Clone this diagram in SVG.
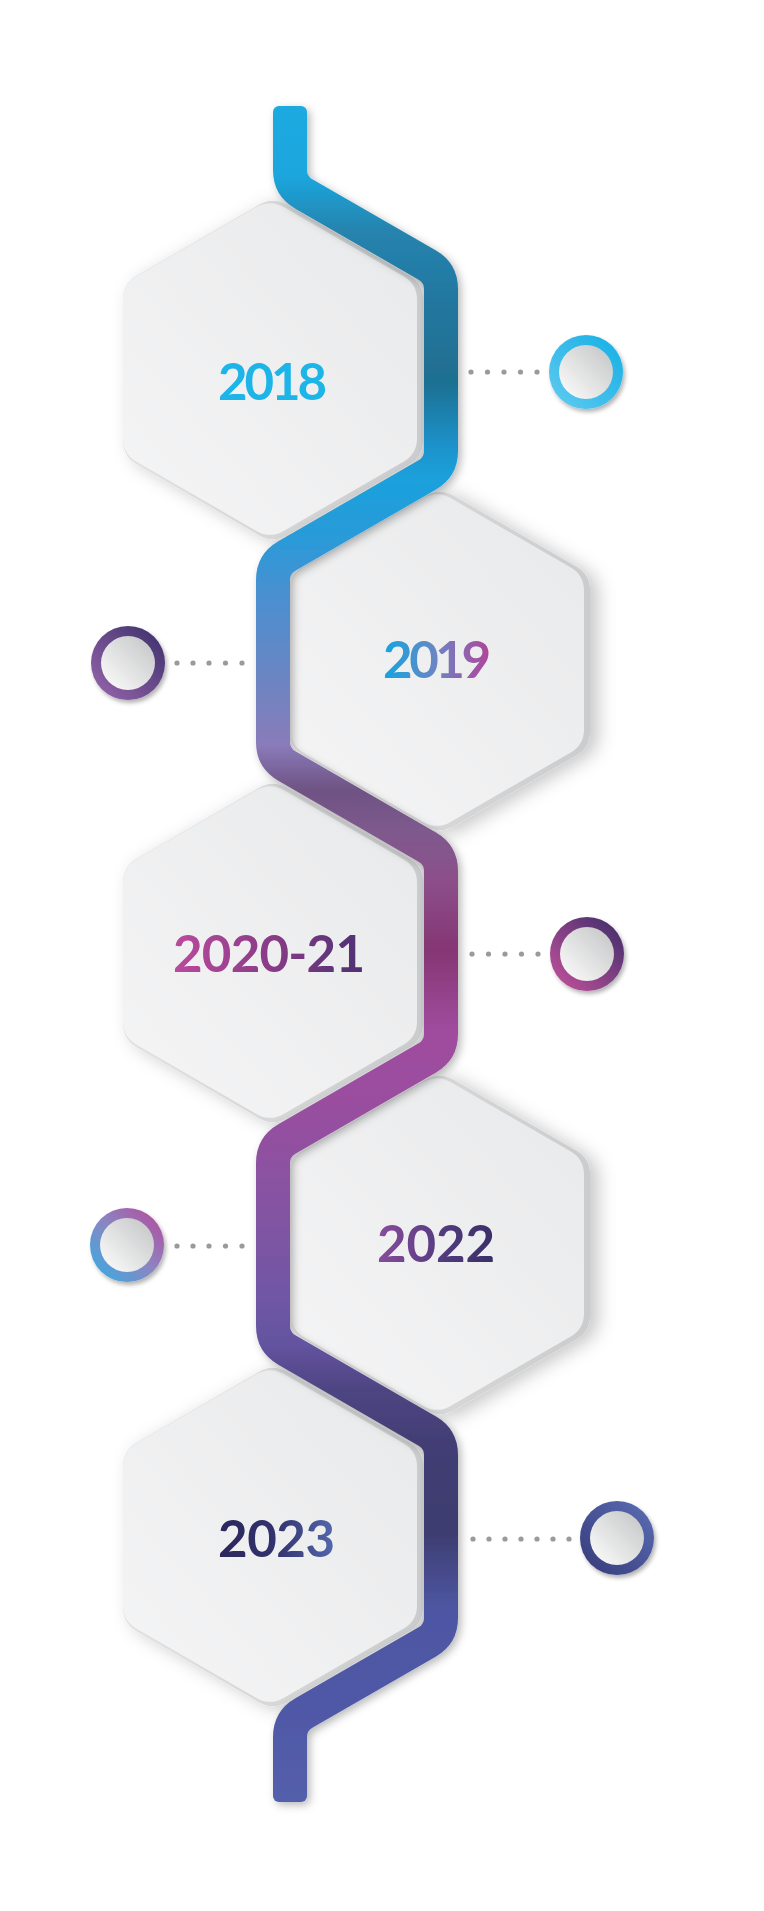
<svg xmlns="http://www.w3.org/2000/svg" xmlns:xlink="http://www.w3.org/1999/xlink" width="764" height="1911" viewBox="0 0 764 1911">
<style>
.yr{font-family:Lato,"Liberation Sans",sans-serif;font-weight:700;font-size:51px}
.dot{fill:#9A9A9B}
.face{fill:url(#faceG)}
.base{fill:url(#baseG);filter:url(#hs)}
.disk{fill:url(#diskG)}
</style>
<defs>
<path id="hex" d="M13.86,-165.2 L136.14,-94.6 Q150,-86.6 150,-70.6 L150,70.6 Q150,86.6 136.14,94.6 L13.86,165.2 Q0,173.2 -13.86,165.2 L-136.14,94.6 Q-150,86.6 -150,70.6 L-150,-70.6 Q-150,-86.6 -136.14,-94.6 L-13.86,-165.2 Q0,-173.2 13.86,-165.2 Z"/>
<filter id="hs" x="-30%" y="-30%" width="160%" height="160%"><feDropShadow dx="8" dy="3" stdDeviation="9" flood-color="#000" flood-opacity="0.22"/></filter>
<filter id="ls" x="-20%" y="-5%" width="140%" height="110%"><feDropShadow dx="3" dy="3" stdDeviation="4" flood-color="#000" flood-opacity="0.28"/></filter>
<filter id="cs" x="-30%" y="-30%" width="160%" height="160%"><feDropShadow dx="2" dy="3" stdDeviation="2" flood-color="#000" flood-opacity="0.3"/></filter>
<linearGradient id="faceG" x1="1" y1="0" x2="0" y2="1"><stop offset="0" stop-color="#E8E9EA"/><stop offset="1" stop-color="#F5F5F6"/></linearGradient>
<linearGradient id="baseG" x1="1" y1="0" x2="0" y2="0"><stop offset="0" stop-color="#CBCCCD"/><stop offset="1" stop-color="#E2E2E3"/></linearGradient>
<linearGradient id="diskG" x1="0.9" y1="0.1" x2="0.1" y2="0.9"><stop offset="0" stop-color="#C8C9CA"/><stop offset="1" stop-color="#F8F8F8"/></linearGradient>
<linearGradient id="lineG" gradientUnits="userSpaceOnUse" x1="0" y1="100" x2="0" y2="1810">
<stop offset="0" stop-color="#1BAAE1"/><stop offset="0.044" stop-color="#1BA6DE"/><stop offset="0.076" stop-color="#2584AE"/><stop offset="0.117" stop-color="#2377A0"/><stop offset="0.164" stop-color="#1F6F90"/><stop offset="0.199" stop-color="#1C8FC6"/><stop offset="0.222" stop-color="#1AA1DD"/><stop offset="0.257" stop-color="#2A9AD8"/><stop offset="0.292" stop-color="#4C8FD0"/><stop offset="0.339" stop-color="#6C85C2"/><stop offset="0.377" stop-color="#8A7BBA"/><stop offset="0.404" stop-color="#6E5283"/><stop offset="0.427" stop-color="#7E5A8D"/><stop offset="0.456" stop-color="#8C4F8B"/><stop offset="0.497" stop-color="#853673"/><stop offset="0.544" stop-color="#A04C9E"/><stop offset="0.585" stop-color="#9A4E9F"/><stop offset="0.632" stop-color="#8A52A1"/><stop offset="0.702" stop-color="#6F57A5"/><stop offset="0.728" stop-color="#6353A0"/><stop offset="0.754" stop-color="#4E4582"/><stop offset="0.784" stop-color="#423E75"/><stop offset="0.836" stop-color="#3D3C6F"/><stop offset="0.883" stop-color="#4E57A3"/><stop offset="0.936" stop-color="#5058A6"/><stop offset="1" stop-color="#535FAB"/>
</linearGradient>
<linearGradient id="r1" x1="0" y1="1" x2="1" y2="0"><stop offset="0" stop-color="#63CCF0"/><stop offset="0.45" stop-color="#3DBDEB"/><stop offset="1" stop-color="#15AFE4"/></linearGradient>
<linearGradient id="r2" x1="0" y1="1" x2="1" y2="0"><stop offset="0" stop-color="#9A66AE"/><stop offset="1" stop-color="#3A2F69"/></linearGradient>
<linearGradient id="r3" x1="0" y1="1" x2="1" y2="0"><stop offset="0" stop-color="#C8529E"/><stop offset="1" stop-color="#3A2D68"/></linearGradient>
<linearGradient id="r4" x1="0" y1="1" x2="1" y2="0"><stop offset="0" stop-color="#2FB0E6"/><stop offset="0.5" stop-color="#8A86C2"/><stop offset="1" stop-color="#B8459A"/></linearGradient>
<linearGradient id="r5" x1="0" y1="1" x2="1" y2="0"><stop offset="0" stop-color="#363978"/><stop offset="1" stop-color="#5B6FB6"/></linearGradient>
<linearGradient id="t2019" x1="0" y1="0" x2="1" y2="0"><stop offset="0" stop-color="#12A6E0"/><stop offset="0.5" stop-color="#6D84C3"/><stop offset="1" stop-color="#B2439A"/></linearGradient>
<linearGradient id="t2020" x1="0" y1="0" x2="1" y2="0"><stop offset="0" stop-color="#BB4A9F"/><stop offset="0.5" stop-color="#8A3C86"/><stop offset="1" stop-color="#4D3173"/></linearGradient>
<linearGradient id="t2022" x1="0" y1="0" x2="1" y2="0"><stop offset="0" stop-color="#8A4C9E"/><stop offset="0.6" stop-color="#4E3A7C"/><stop offset="1" stop-color="#3A2F66"/></linearGradient>
<linearGradient id="t2023" x1="0" y1="0" x2="1" y2="0"><stop offset="0" stop-color="#2C275B"/><stop offset="0.5" stop-color="#33336E"/><stop offset="1" stop-color="#5468AD"/></linearGradient>
</defs>
<rect width="764" height="1911" fill="#FFFFFF"/>

<g id="hex-2018">
<use href="#hex" class="base" transform="translate(273,370)"/>
<use href="#hex" class="face" transform="translate(270,369) scale(0.98)"/>
<text class="yr" x="218" y="400" textLength="109" lengthAdjust="spacing" fill="#1DB4E8">2018</text>
</g>
<g id="hex-2019">
<use href="#hex" class="base" transform="translate(440,661)"/>
<use href="#hex" class="face" transform="translate(437,660) scale(0.98)"/>
<text class="yr" x="383" y="678" textLength="108" lengthAdjust="spacing" fill="url(#t2019)">2019</text>
</g>
<g id="hex-2020-21">
<use href="#hex" class="base" transform="translate(273,953)"/>
<use href="#hex" class="face" transform="translate(270,952) scale(0.98)"/>
<text class="yr" x="173" y="972" textLength="192" lengthAdjust="spacing" fill="url(#t2020)">2020-21</text>
</g>
<g id="hex-2022">
<use href="#hex" class="base" transform="translate(440,1245)"/>
<use href="#hex" class="face" transform="translate(437,1244) scale(0.98)"/>
<text class="yr" x="377" y="1262" textLength="118" lengthAdjust="spacing" fill="url(#t2022)">2022</text>
</g>
<g id="hex-2023">
<use href="#hex" class="base" transform="translate(273,1537)"/>
<use href="#hex" class="face" transform="translate(270,1536) scale(0.98)"/>
<text class="yr" x="218" y="1557" textLength="117" lengthAdjust="spacing" fill="url(#t2023)">2023</text>
</g>

<g id="connectors">
<g id="timeline" filter="url(#ls)" fill="url(#lineG)">
<rect x="273" y="106" width="34" height="26" rx="6"/>
<rect x="273" y="1776" width="34" height="26" rx="6"/>
<path d="M290,120 L290,170 Q290,186 303.86,194 L427.14,265 Q441,273 441,289 L441,451 Q441,467 427.14,475 L286.86,556 Q273,564 273,580 L273,742 Q273,758 286.86,766 L427.14,847 Q441,855 441,871 L441,1034 Q441,1050 427.14,1058 L286.86,1139 Q273,1147 273,1163 L273,1326 Q273,1342 286.86,1350 L427.14,1431 Q441,1439 441,1455 L441,1618 Q441,1634 427.14,1642 L303.86,1713 Q290,1721 290,1737 L290,1790" fill="none" stroke="url(#lineG)" stroke-width="34" stroke-linejoin="round"/>
</g>
<g id="dots">
<circle class="dot" cx="471" cy="372" r="2.6"/><circle class="dot" cx="487.5" cy="372" r="2.6"/><circle class="dot" cx="504" cy="372" r="2.6"/><circle class="dot" cx="520.5" cy="372" r="2.6"/><circle class="dot" cx="537" cy="372" r="2.6"/>
<circle class="dot" cx="177" cy="663" r="2.6"/><circle class="dot" cx="193" cy="663" r="2.6"/><circle class="dot" cx="209" cy="663" r="2.6"/><circle class="dot" cx="225.5" cy="663" r="2.6"/><circle class="dot" cx="242" cy="663" r="2.6"/>
<circle class="dot" cx="472" cy="954" r="2.6"/><circle class="dot" cx="488.5" cy="954" r="2.6"/><circle class="dot" cx="505" cy="954" r="2.6"/><circle class="dot" cx="521.5" cy="954" r="2.6"/><circle class="dot" cx="538" cy="954" r="2.6"/>
<circle class="dot" cx="177" cy="1246" r="2.6"/><circle class="dot" cx="193" cy="1246" r="2.6"/><circle class="dot" cx="209" cy="1246" r="2.6"/><circle class="dot" cx="225.5" cy="1246" r="2.6"/><circle class="dot" cx="242" cy="1246" r="2.6"/>
<circle class="dot" cx="473" cy="1539" r="2.6"/><circle class="dot" cx="489" cy="1539" r="2.6"/><circle class="dot" cx="505" cy="1539" r="2.6"/><circle class="dot" cx="521" cy="1539" r="2.6"/><circle class="dot" cx="537" cy="1539" r="2.6"/><circle class="dot" cx="553" cy="1539" r="2.6"/><circle class="dot" cx="569" cy="1539" r="2.6"/>
</g>
</g>

<g id="marker-2018" filter="url(#cs)"><circle cx="586" cy="372" r="37" fill="url(#r1)"/><circle class="disk" cx="586" cy="372" r="27"/></g>
<g id="marker-2019" filter="url(#cs)"><circle cx="128" cy="663" r="37" fill="url(#r2)"/><circle class="disk" cx="128" cy="663" r="27"/></g>
<g id="marker-2020-21" filter="url(#cs)"><circle cx="587" cy="954" r="37" fill="url(#r3)"/><circle class="disk" cx="587" cy="954" r="27"/></g>
<g id="marker-2022" filter="url(#cs)"><circle cx="127" cy="1245" r="37" fill="url(#r4)"/><circle class="disk" cx="127" cy="1245" r="27"/></g>
<g id="marker-2023" filter="url(#cs)"><circle cx="617" cy="1538" r="37" fill="url(#r5)"/><circle class="disk" cx="617" cy="1538" r="27"/></g>
</svg>
